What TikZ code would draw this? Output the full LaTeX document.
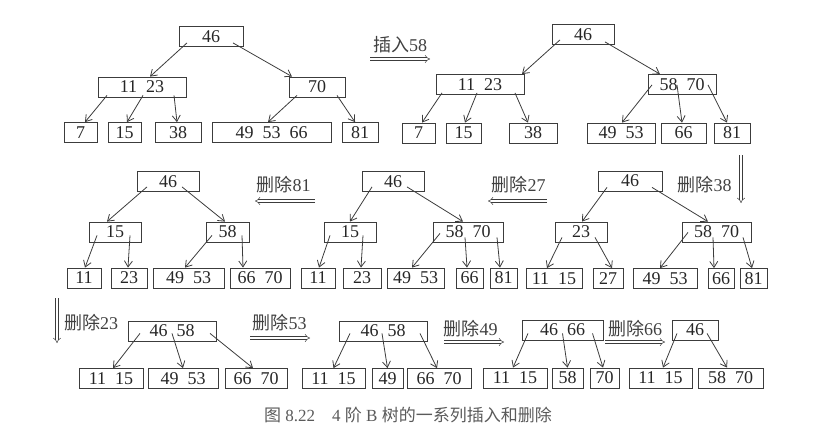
\documentclass[tikz,border=0pt]{standalone}
\usepackage{fontspec}
\setmainfont{Liberation Serif}
\newfontfamily\cjk{Noto Sans CJK SC}
\usetikzlibrary{arrows.meta}
\definecolor{ink}{HTML}{3C3C3C}
\definecolor{capgray}{HTML}{5A5A5A}

\begin{document}
\begin{tikzpicture}
  [x=1pt,y=-1pt,
   every node/.style={draw=ink,text=black!85,inner sep=0pt,minimum height=20pt,line width=.8pt,font=\fontsize{18}{20}\selectfont},
   op/.style={draw=none,text=black!75},
   ptr/.style={every edge/.style={draw=ink,line width=.8pt,-{Straight Barb[length=6pt,width=8pt]}}},
   move/.style={every edge/.style={draw=ink,line width=.5pt,double,double distance=2.2pt,-{Implies}}}]
  \useasboundingbox (0,0) rectangle (837,444);

  % top left
  \node[minimum width=64] (a1) at (211,36.5) {46};
  \node[minimum width=88] (a2) at (142,87) {11\enspace 23};
  \node[minimum width=56] (a3) at (317,87) {70};
  \node[minimum width=33] (a4) at (80.5,132.5) {7};
  \node[minimum width=33] (a5) at (124.5,132.5) {15};
  \node[minimum width=46] (a6) at (178,132.5) {38};
  \node[minimum width=119] (a7) at (271.5,132.5) {49\enspace 53\enspace 66};
  \node[minimum width=36] (a8) at (360,132.5) {81};
  \path[ptr]
    ([xshift=-24pt,yshift=4pt]a1.south) edge ([xshift=8pt]a2.north)
    ([xshift=22pt,yshift=4pt]a1.south) edge ([xshift=-25pt]a3.north)
    ([xshift=-35pt,yshift=2pt]a2.south) edge ([xshift=4.5pt]a4.north)
    ([xshift=1pt,yshift=2pt]a2.south) edge ([xshift=2.5pt]a5.north)
    ([xshift=32pt,yshift=2pt]a2.south) edge ([xshift=-1pt]a6.north)
    ([xshift=-20pt,yshift=2pt]a3.south) edge ([xshift=-3.5pt]a7.north)
    ([xshift=20pt,yshift=2pt]a3.south) edge ([xshift=-5pt]a8.north);

  % top right
  \node[minimum width=62] (b1) at (583,34.5) {46};
  \node[minimum width=88] (b2) at (480,84.5) {11\enspace 23};
  \node[minimum width=68] (b3) at (682,84.5) {58\enspace 70};
  \node[minimum width=33] (b4) at (418.5,133) {7};
  \node[minimum width=35] (b5) at (463.5,133) {15};
  \node[minimum width=48] (b6) at (533,133) {38};
  \node[minimum width=68] (b7) at (621,133) {49\enspace 53};
  \node[minimum width=45] (b8) at (683.5,133) {66};
  \node[minimum width=36] (b9) at (732,133) {81};
  \path[ptr]
    ([xshift=-23pt,yshift=5pt]b1.south) edge ([xshift=42pt]b2.north)
    ([xshift=22pt,yshift=3pt]b1.south) edge ([xshift=-22pt]b3.north)
    ([xshift=-38pt,yshift=2pt]b2.south) edge ([xshift=3.5pt]b4.north)
    ([xshift=-3pt,yshift=2pt]b2.south) edge ([xshift=1.5pt]b5.north)
    ([xshift=35pt,yshift=2pt]b2.south) edge ([xshift=-5pt]b6.north)
    ([xshift=-30pt,yshift=10pt]b3.south) edge ([xshift=1pt]b7.north)
    ([xshift=-5pt,yshift=10pt]b3.south) edge ([xshift=-1.5pt]b8.north)
    ([xshift=26pt,yshift=10pt]b3.south) edge ([xshift=-5pt]b9.north);

  % middle left
  \node[minimum width=62] (c1) at (168,181.5) {46};
  \node[minimum width=52] (c2) at (115,232) {15};
  \node[minimum width=43] (c3) at (227.5,232) {58};
  \node[minimum width=34] (c4) at (84,278) {11};
  \node[minimum width=36] (c5) at (129,278) {23};
  \node[minimum width=71] (c6) at (188.5,278) {49\enspace 53};
  \node[minimum width=60] (c7) at (260,278) {66\enspace 70};
  \path[ptr]
    ([xshift=-21pt,yshift=5pt]c1.south) edge ([xshift=-8pt]c2.north)
    ([xshift=14pt,yshift=5pt]c1.south) edge ([xshift=-2.5pt]c3.north)
    ([xshift=-18pt,yshift=7pt]c2.south) edge ([xshift=1pt]c4.north)
    ([xshift=15pt,yshift=7pt]c2.south) edge ([xshift=-1pt]c5.north)
    ([xshift=-15.5pt,yshift=7pt]c3.south) edge ([xshift=-3.5pt]c6.north)
    ([xshift=14.5pt,yshift=7pt]c3.south) edge ([xshift=-17pt]c7.north);

  % middle
  \node[minimum width=62] (d1) at (393,181.5) {46};
  \node[minimum width=52] (d2) at (350,232) {15};
  \node[minimum width=70] (d3) at (468,232) {58\enspace 70};
  \node[minimum width=34] (d4) at (318,278) {11};
  \node[minimum width=38] (d5) at (362,278) {23};
  \node[minimum width=57] (d6) at (415.5,278) {49\enspace 53};
  \node[minimum width=27] (d7) at (469.5,278) {66};
  \node[minimum width=27] (d8) at (503.5,278) {81};
  \path[ptr]
    ([xshift=-21pt,yshift=5pt]d1.south) edge (d2.north)
    ([xshift=14pt,yshift=5pt]d1.south) edge ([xshift=-5pt]d3.north)
    ([xshift=-20pt,yshift=7pt]d2.south) edge ([xshift=1pt]d4.north)
    ([xshift=13pt,yshift=7pt]d2.south) edge ([xshift=-1pt]d5.north)
    ([xshift=-28pt,yshift=9pt]d3.south) edge ([xshift=-3.5pt]d6.north)
    ([xshift=-3pt,yshift=5pt]d3.south) edge ([xshift=-2.5pt]d7.north)
    ([xshift=29pt,yshift=5pt]d3.south) edge ([xshift=-3.5pt]d8.north);

  % middle right
  \node[minimum width=64] (e1) at (630,181) {46};
  \node[minimum width=52] (e2) at (581,232) {23};
  \node[minimum width=69] (e3) at (716.5,232) {58\enspace 70};
  \node[minimum width=56] (e4) at (554,278.5) {11\enspace 15};
  \node[minimum width=30] (e5) at (608,278.5) {27};
  \node[minimum width=64] (e6) at (665,278.5) {49\enspace 53};
  \node[minimum width=26] (e7) at (721,278.5) {66};
  \node[minimum width=27] (e8) at (753.5,278.5) {81};
  \path[ptr]
    ([xshift=-23pt,yshift=4pt]e1.south) edge ([xshift=1pt]e2.north)
    ([xshift=22pt,yshift=4pt]e1.south) edge ([xshift=-8.5pt]e3.north)
    ([xshift=-19pt,yshift=5pt]e2.south) edge ([xshift=-7pt]e4.north)
    ([xshift=14pt,yshift=5pt]e2.south) edge ([xshift=4pt]e5.north)
    ([xshift=-28.5pt,yshift=10pt]e3.south) edge ([xshift=-5pt]e6.north)
    ([xshift=-3.5pt,yshift=5pt]e3.south) edge ([xshift=-7pt]e7.north)
    ([xshift=26.5pt,yshift=5pt]e3.south) edge ([xshift=-1.5pt]e8.north);

  % bottom row
  \node[minimum width=88] (f1) at (172,331) {46\enspace 58};
  \node[minimum width=64] (f2) at (111,378.5) {11\enspace 15};
  \node[minimum width=70] (f3) at (183,378.5) {49\enspace 53};
  \node[minimum width=62] (f4) at (256,378.5) {66\enspace 70};
  \path[ptr]
    ([xshift=-32pt,yshift=8pt]f1.south) edge ([xshift=2pt]f2.north)
    ([yshift=8pt]f1.south) edge (f3.north)
    ([xshift=38pt,yshift=8pt]f1.south) edge ([xshift=-3pt]f4.north);

  \node[minimum width=88] (g1) at (383,331) {46\enspace 58};
  \node[minimum width=63] (g2) at (333.5,378.5) {11\enspace 15};
  \node[minimum width=31] (g3) at (387.5,378.5) {49};
  \node[minimum width=64] (g4) at (439,378.5) {66\enspace 70};
  \path[ptr]
    ([xshift=-33pt,yshift=8pt]g1.south) edge (g2.north)
    ([xshift=-1pt,yshift=8pt]g1.south) edge (g3.north)
    ([xshift=37pt,yshift=8pt]g1.south) edge ([xshift=-2pt]g4.north);

  \node[minimum width=81] (h1) at (562.5,330) {46\enspace 66};
  \node[minimum width=64] (h2) at (515,378) {11\enspace 15};
  \node[minimum width=31] (h3) at (567.5,378) {58};
  \node[minimum width=29] (h4) at (604.5,378) {70};
  \path[ptr]
    ([xshift=-34.5pt,yshift=7pt]h1.south) edge ([xshift=-2pt]h2.north)
    ([yshift=7pt]h1.south) edge (h3.north)
    ([xshift=30pt,yshift=7pt]h1.south) edge ([xshift=-1.5pt]h4.north);

  \node[minimum width=46] (i1) at (695,330) {46};
  \node[minimum width=63] (i2) at (660.5,378) {11\enspace 15};
  \node[minimum width=65] (i3) at (730.5,378) {58\enspace 70};
  \path[ptr]
    ([xshift=-18pt,yshift=7pt]i1.south) edge ([xshift=2.5pt]i2.north)
    ([xshift=12pt,yshift=7pt]i1.south) edge ([xshift=-3.5pt]i3.north);

  % operations
  \node[op] (o1) at (400,45) {{\cjk 插入}58};
  \node[op] (o2) at (704.5,184.5) {{\cjk 删除}38};
  \node[op] (o3) at (518.5,184.5) {{\cjk 删除}27};
  \node[op] (o4) at (283.5,184.5) {{\cjk 删除}81};
  \node[op] (o5) at (91,322.5) {{\cjk 删除}23};
  \node[op] (o6) at (279.5,322.5) {{\cjk 删除}53};
  \node[op] (o7) at (470.5,328.5) {{\cjk 删除}49};
  \node[op] (o8) at (635,328.5) {{\cjk 删除}66};
  \coordinate (m1a) at (370,59);  \coordinate (m1b) at (430,59);
  \coordinate (m2a) at (741,155); \coordinate (m2b) at (741,203);
  \coordinate (m3a) at (547,201); \coordinate (m3b) at (488,201);
  \coordinate (m4a) at (315,201); \coordinate (m4b) at (255,201);
  \coordinate (m5a) at (57,298);  \coordinate (m5b) at (57,343);
  \coordinate (m6a) at (250,338); \coordinate (m6b) at (310,338);
  \coordinate (m7a) at (444,342); \coordinate (m7b) at (504,342);
  \coordinate (m8a) at (605,342); \coordinate (m8b) at (665,342);
  \path[move]
    (m1a) edge (m1b) (m2a) edge (m2b) (m3a) edge (m3b) (m4a) edge (m4b)
    (m5a) edge (m5b) (m6a) edge (m6b) (m7a) edge (m7b) (m8a) edge (m8b);

  \node[op,text=capgray,font=\fontsize{17}{19}\selectfont] (cap) at (408,415.5)
    {{\cjk 图} 8.22\quad 4 {\cjk 阶} B {\cjk 树的一系列插入和删除}};
\end{tikzpicture}
\end{document}
